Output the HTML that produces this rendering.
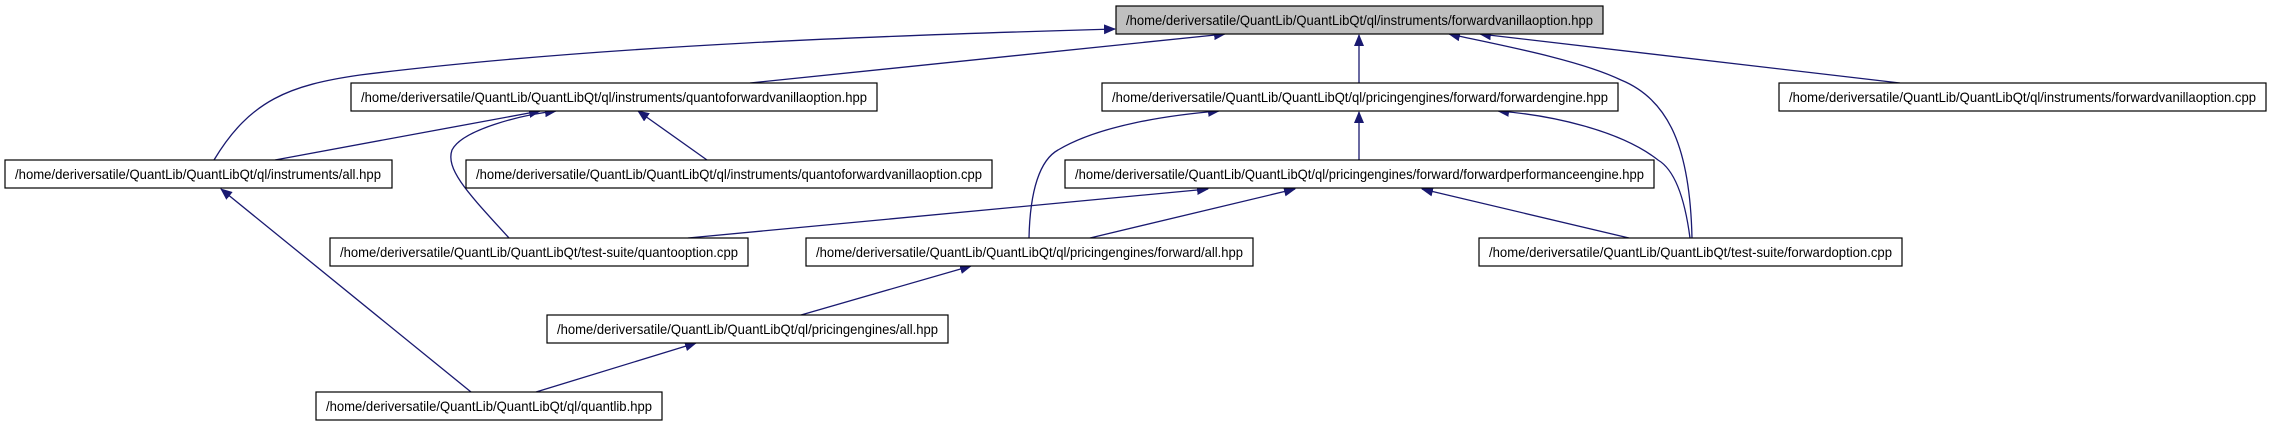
<!DOCTYPE html>
<html><head><meta charset="utf-8"><style>
html,body{margin:0;padding:0;background:#fff;}
svg{display:block;}
text{font-family:"Liberation Sans",Arial,sans-serif;font-size:14px;fill:#000;}
</style></head><body>
<svg width="2272" height="427" viewBox="0 0 2272 427" xmlns="http://www.w3.org/2000/svg">
<defs>
<marker id="a" markerWidth="12" markerHeight="10" refX="11" refY="5" orient="auto" markerUnits="userSpaceOnUse">
<path d="M0,0 L12,5 L0,10 Z" fill="#191970"/>
</marker>
</defs>
<g fill="none" stroke="#191970" stroke-width="1.3" marker-end="url(#a)">
<path d="M214,160 C250,100 290,85 360,75 C600,45 900,35 1115,29"/>
<path d="M750,83 L1225,34"/>
<path d="M1359,83 L1359,35"/>
<path d="M1692,238 C1690,150 1670,100 1621,80 C1580,60 1500,45 1449,34"/>
<path d="M1900,83 L1480,34"/>
<path d="M275,160 L540,111"/>
<path d="M509,238 C470,195 445,170 452,150 C462,130 520,115 556,111"/>
<path d="M707,160 L638,111"/>
<path d="M1029,238 C1030,190 1040,160 1058,150 C1100,125 1170,115 1219,111"/>
<path d="M1359,160 L1359,112"/>
<path d="M1690,238 C1685,200 1675,170 1658,160 C1620,130 1550,115 1498,111"/>
<path d="M688,238 L1208,189"/>
<path d="M1090,238 L1295,189"/>
<path d="M1629,238 L1422,189"/>
<path d="M471,392 L221,189"/>
<path d="M801,315 L971,266"/>
<path d="M536,392 L696,343"/>
</g>
<g stroke="#000" stroke-width="1.2">
<rect x="1116" y="6" width="487" height="28" fill="#bfbfbf"/>
<rect x="351" y="83" width="526" height="28" fill="#fff"/>
<rect x="1102" y="83" width="516" height="28" fill="#fff"/>
<rect x="1779" y="83" width="487" height="28" fill="#fff"/>
<rect x="5" y="160" width="387" height="28" fill="#fff"/>
<rect x="466" y="160" width="526" height="28" fill="#fff"/>
<rect x="1065" y="160" width="589" height="28" fill="#fff"/>
<rect x="330" y="238" width="418" height="28" fill="#fff"/>
<rect x="806" y="238" width="447" height="28" fill="#fff"/>
<rect x="1479" y="238" width="423" height="28" fill="#fff"/>
<rect x="547" y="315" width="401" height="28" fill="#fff"/>
<rect x="316" y="392" width="346" height="28" fill="#fff"/>
</g>
<g>
<text x="1126" y="25" textLength="467" lengthAdjust="spacingAndGlyphs">/home/deriversatile/QuantLib/QuantLibQt/ql/instruments/forwardvanillaoption.hpp</text>
<text x="361" y="102" textLength="506" lengthAdjust="spacingAndGlyphs">/home/deriversatile/QuantLib/QuantLibQt/ql/instruments/quantoforwardvanillaoption.hpp</text>
<text x="1112" y="102" textLength="496" lengthAdjust="spacingAndGlyphs">/home/deriversatile/QuantLib/QuantLibQt/ql/pricingengines/forward/forwardengine.hpp</text>
<text x="1789" y="102" textLength="467" lengthAdjust="spacingAndGlyphs">/home/deriversatile/QuantLib/QuantLibQt/ql/instruments/forwardvanillaoption.cpp</text>
<text x="15" y="179" textLength="366" lengthAdjust="spacingAndGlyphs">/home/deriversatile/QuantLib/QuantLibQt/ql/instruments/all.hpp</text>
<text x="476" y="179" textLength="506" lengthAdjust="spacingAndGlyphs">/home/deriversatile/QuantLib/QuantLibQt/ql/instruments/quantoforwardvanillaoption.cpp</text>
<text x="1075" y="179" textLength="569" lengthAdjust="spacingAndGlyphs">/home/deriversatile/QuantLib/QuantLibQt/ql/pricingengines/forward/forwardperformanceengine.hpp</text>
<text x="340" y="257" textLength="398" lengthAdjust="spacingAndGlyphs">/home/deriversatile/QuantLib/QuantLibQt/test-suite/quantooption.cpp</text>
<text x="816" y="257" textLength="427" lengthAdjust="spacingAndGlyphs">/home/deriversatile/QuantLib/QuantLibQt/ql/pricingengines/forward/all.hpp</text>
<text x="1489" y="257" textLength="403" lengthAdjust="spacingAndGlyphs">/home/deriversatile/QuantLib/QuantLibQt/test-suite/forwardoption.cpp</text>
<text x="557" y="334" textLength="381" lengthAdjust="spacingAndGlyphs">/home/deriversatile/QuantLib/QuantLibQt/ql/pricingengines/all.hpp</text>
<text x="326" y="411" textLength="326" lengthAdjust="spacingAndGlyphs">/home/deriversatile/QuantLib/QuantLibQt/ql/quantlib.hpp</text>
</g>
</svg>
</body></html>
